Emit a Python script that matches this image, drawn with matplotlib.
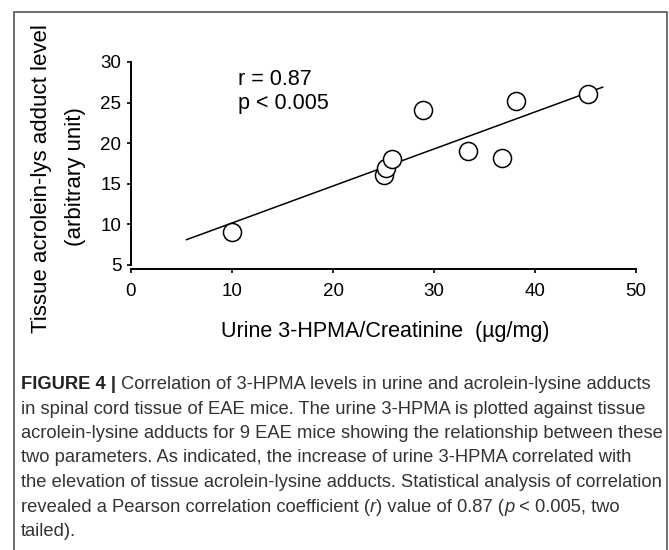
import numpy as np
import matplotlib
matplotlib.use("Agg")
import matplotlib.pyplot as plt
from matplotlib.lines import Line2D

# data
urine_hpma = [10.0, 25.0, 25.2, 25.8, 28.9, 33.4, 36.7, 38.1, 45.2]
tissue_adduct = [9.1, 16.1, 17.0, 18.0, 24.1, 19.0, 18.2, 25.2, 26.1]
fit_range = [5.5, 46.7]
x_ticks = [0, 10, 20, 30, 40, 50]
y_ticks = [5, 10, 15, 20, 25, 30]
stats_text = ["r = 0.87", "p < 0.005"]

caption_lines = [
    [("FIGURE 4 |", "bold"), (" Correlation of 3-HPMA levels in urine and acrolein-lysine adducts", "normal")],
    [("in spinal cord tissue of EAE mice. The urine 3-HPMA is plotted against tissue", "normal")],
    [("acrolein-lysine adducts for 9 EAE mice showing the relationship between these", "normal")],
    [("two parameters. As indicated, the increase of urine 3-HPMA correlated with", "normal")],
    [("the elevation of tissue acrolein-lysine adducts. Statistical analysis of correlation", "normal")],
    [("revealed a Pearson correlation coefficient (", "normal"), ("r", "italic"),
     (") value of 0.87 (", "normal"), ("p", "italic"), (" < 0.005, two", "normal")],
    [("tailed).", "normal")],
]

W, H = 669, 550
plt.rcParams['font.family'] = ['Liberation Sans', 'DejaVu Sans']

fig = plt.figure(figsize=(W / 100, H / 100), dpi=100)
ax = fig.add_axes([131 / W, 1 - 269 / H, 505 / W, 207 / H])

# regression line
slope, intercept = np.polyfit(urine_hpma, tissue_adduct, 1)
xs = np.array(fit_range)
ax.plot(xs, slope * xs + intercept, color='black', lw=1.1, zorder=2, clip_on=False)

# points
ax.plot(urine_hpma, tissue_adduct, 'o', ms=13, mfc='white', mec='black', mew=1.1,
        zorder=3, clip_on=False)

ax.set_xlim(0, 50)
ax.set_ylim(4.5, 30)
ax.set_xticks(x_ticks)
ax.set_yticks(y_ticks)
for s in ['top', 'right']:
    ax.spines[s].set_visible(False)
ax.spines['left'].set_bounds(5, 30)
ax.spines['left'].set_linewidth(1.4)
ax.spines['bottom'].set_linewidth(1.4)
ax.tick_params(axis='both', direction='out', length=3, width=1.2, labelsize=13.5)
ax.tick_params(axis='y', pad=4)
ax.tick_params(axis='x', pad=7)

ax.text(10.6, 27.2, stats_text[0], fontsize=15.5, va='baseline')
ax.text(10.6, 24.2, stats_text[1], fontsize=15.5, va='baseline')

# axis labels
fig.text(42 / W, 1 - 179 / H, "Tissue acrolein-lys adduct level", rotation=90,
         ha='center', va='center', fontsize=16)
fig.text(75 / W, 1 - 177 / H, "(arbitrary unit)", rotation=90,
         ha='center', va='center', fontsize=16)
fig.text(385 / W, 1 - 332 / H, "Urine 3-HPMA/Creatinine  (\u00b5g/mg)",
         ha='center', va='center', fontsize=15.5)

# caption
renderer = fig.canvas.get_renderer()
cap_color = '#333333'
for i, segs in enumerate(caption_lines):
    x = 21
    y = 1 - (389 + 24.5 * i) / H
    for txt, style in segs:
        kw = dict(fontsize=13.2, color=cap_color, va='baseline', ha='left')
        if style == 'bold':
            kw['fontweight'] = 'bold'
            kw['color'] = '#222222'
        elif style == 'italic':
            kw['fontstyle'] = 'italic'
        t = fig.text(x / W, y, txt, **kw)
        x += t.get_window_extent(renderer).width

# frame around the figure panel
fig.add_artist(Line2D([14 / W, 14 / W, 667 / W, 667 / W], [0, 1 - 12 / H, 1 - 12 / H, 0],
                      transform=fig.transFigure, color='#555555', lw=1.2))

fig.savefig("out.png", dpi=100)
